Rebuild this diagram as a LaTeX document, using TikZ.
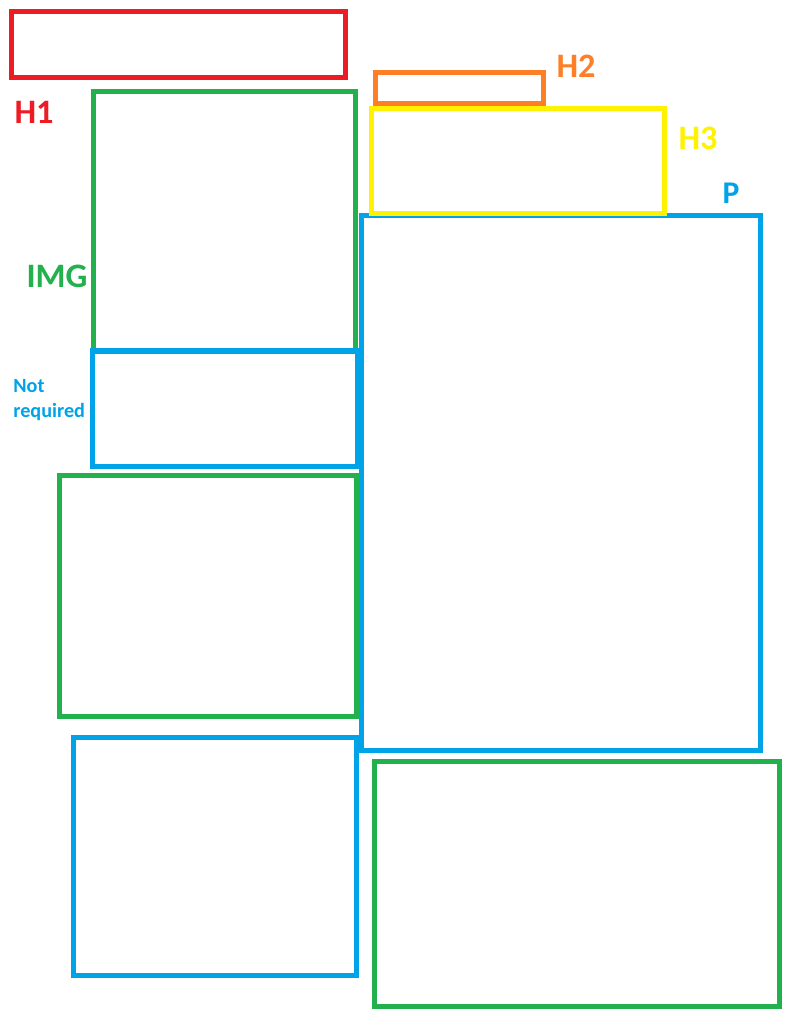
\documentclass[tikz,border=0pt]{standalone}
\usepackage{fontspec}
\setmainfont{Carlito}
\usetikzlibrary{fit}
\definecolor{paintRed}{HTML}{ED1C24}
\definecolor{paintOrange}{HTML}{FF7F27}
\definecolor{paintYellow}{HTML}{FFF200}
\definecolor{paintGreen}{HTML}{22B14C}
\definecolor{paintBlue}{HTML}{00A2E8}

\begin{document}
\begin{tikzpicture}[
  x=0.02cm, y=-0.02cm,
  region/.style={rectangle, draw, line width=0.1cm, inner sep=0pt, outer sep=0pt},
  hOne/.style={region, draw=paintRed},
  hTwo/.style={region, draw=paintOrange},
  hThree/.style={region, draw=paintYellow},
  imgbox/.style={region, draw=paintGreen},
  parbox/.style={region, draw=paintBlue},
  tag/.style={font=\fontsize{19.5}{23}\selectfont\bfseries, inner sep=0pt},
  note/.style={font=\fontsize{11.5}{14.5}\selectfont\bfseries, inner sep=0pt,
               align=left, text=paintBlue},
]
\useasboundingbox (0,0) rectangle (791,1024);

% =============================== regions ===================================
\node[hOne,   fit={(11.5,11.5) (345,77.5)}]    (h1)     {};
\node[imgbox, fit={(93.5,92) (355,351)}]       (img1)   {};
\node[parbox, fit={(92.5,350.5) (357.5,466)}]  (spare)  {};
\node[imgbox, fit={(59,475.5) (356.5,716.5)}]  (img2)   {};
\node[parbox, fit={(73.5,737.5) (356.5,975.5)}] (par2)  {};
\node[parbox, fit={(361.5,215.5) (760.5,750.5)}] (par1) {};
\node[hTwo,   fit={(375.5,73) (543,104)}]      (h2)     {};
\node[hThree, fit={(371.5,108.5) (664.5,213)}] (h3)     {};
\node[imgbox, fit={(374.5,761.5) (779.5,1006)}] (img3)  {};

% =============================== labels ====================================
\node[tag, text=paintRed]    at (34,112)  (h1lbl)  {H1};
\node[tag, text=paintGreen]  at (57,276)  (imglbl) {IMG};
\node[note, anchor=west]     at (13,400)  (nrlbl)  {Not\\required};
\node[tag, text=paintOrange] at (576,66)  (h2lbl)  {H2};
\node[tag, text=paintYellow] at (698,138) (h3lbl)  {H3};
\node[tag, text=paintBlue, font=\fontsize{18}{21}\selectfont\bfseries]
                             at (731,193) (plbl)   {P};

\end{tikzpicture}
\end{document}
